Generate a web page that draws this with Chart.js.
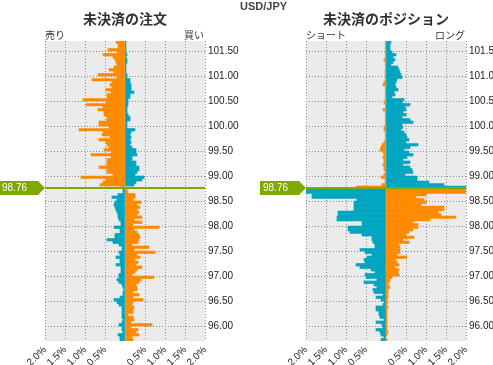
<!DOCTYPE html>
<html>
<head>
<meta charset="utf-8">
<script src="https://cdn.jsdelivr.net/npm/chart.js@4.4.1/dist/chart.umd.min.js"></script>
<style>
body { margin: 0; background: #fff; width: 493px; height: 365px; overflow: hidden; position: relative; }
.box { position: absolute; top: 0; height: 365px; }
#leftBox { left: 0; width: 255px; }
#rightBox { left: 255px; width: 238px; }
#pair { position: absolute; left: 240px; top: 0px; font: bold 11px "Liberation Sans", Arial, sans-serif; color: #444; }
</style>
</head>
<body>
<div class="box" id="leftBox"><canvas id="orderChart"></canvas></div>
<div class="box" id="rightBox"><canvas id="positionChart"></canvas></div>
<div id="pair">USD/JPY</div>
<script>
// price bins (lower edge of each 0.05 bucket, top to bottom)
var priceLevels = [
  101.65,101.60,101.55,101.50,101.45,101.40,101.35,101.30,101.25,101.20,
  101.15,101.10,101.05,101.00,100.95,100.90,100.85,100.80,100.75,100.70,
  100.65,100.60,100.55,100.50,100.45,100.40,100.35,100.30,100.25,100.20,
  100.15,100.10,100.05,100.00,99.95,99.90,99.85,99.80,99.75,99.70,
  99.65,99.60,99.55,99.50,99.45,99.40,99.35,99.30,99.25,99.20,
  99.15,99.10,99.05,99.00,98.95,98.90,98.85,98.80,98.75,98.70,
  98.65,98.60,98.55,98.50,98.45,98.40,98.35,98.30,98.25,98.20,
  98.15,98.10,98.05,98.00,97.95,97.90,97.85,97.80,97.75,97.70,
  97.65,97.60,97.55,97.50,97.45,97.40,97.35,97.30,97.25,97.20,
  97.15,97.10,97.05,97.00,96.95,96.90,96.85,96.80,96.75,96.70,
  96.65,96.60,96.55,96.50,96.45,96.40,96.35,96.30,96.25,96.20,
  96.15,96.10,96.05,96.00,95.95,95.90,95.85,95.80,95.75,95.70
];
var binWidth = 0.05;
var currentPrice = 98.76;

// open orders, % (left = sell side, right = buy side)
var orderSell = [
  0.225,0.175,0.175,0.425,0.2,0.55,0.3,0.25,0.225,0.2,
  0.275,0.4,0.275,0.675,0.2,0.825,0.325,0.375,0.325,0.475,
  0.35,0.45,0.45,1.05,0.475,0.975,0.55,0.675,0.525,0.525,
  0.45,0.45,0.65,0.65,0.4,1.15,0.55,0.575,0.375,0.65,
  0.475,0.45,0.4,0.525,0.35,0.85,0.35,0.45,0.45,0.45,
  0.65,0.45,0.45,0.3,1.1,0.475,0.55,0.625,0.1,0.05,
  0.05,0.175,0.325,0.2,0.25,0.275,0.25,0.225,0.2,0.175,
  0.175,0.15,0.1,0.1,0.275,0.125,0.125,0.25,0.25,0.45,
  0.3,0.15,0.075,0.075,0.15,0.125,0.225,0.125,0.125,0.225,
  0.1,0.1,0.1,0.15,0.15,0.2,0.15,0.075,0.05,0.025,
  0.05,0.05,0.125,0.275,0.2,0.15,0.075,0.075,0.075,0.075,
  0.075,0.05,0.075,0.15,0.075,0.075,0.05,0.175,0.125,0.125
];
var orderBuy = [
  0.025,0.025,0.025,0.025,0.025,0.05,0.025,0.05,0.05,0.025,
  0.025,0.025,0.025,0.05,0.05,0.125,0.125,0.15,0.15,0.15,
  0.225,0.125,0.125,0.075,0.075,0.075,0.05,0.05,0.05,0.075,
  0.125,0.125,0.05,0.05,0.05,0.25,0.15,0.125,0.15,0.125,
  0.15,0.125,0.175,0.275,0.275,0.3,0.175,0.175,0.275,0.275,
  0.35,0.35,0.3,0.25,0.475,0.425,0.275,0.225,0,0.05,
  0.075,0.25,0.25,0.2,0.4,0.3,0.375,0.3,0.35,0.3,
  0.425,0.225,0.425,0.2,0.85,0.225,0.3,0.35,0.375,0.35,
  0.325,0.175,0.6,0.225,0.75,0.3,0.375,0.25,0.325,0.275,
  0.425,0.3,0.25,0.175,0.725,0.4,0.35,0.275,0.3,0.3,
  0.2,0.35,0.2,0.45,0.2,0.175,0.225,0.2,0.2,0.075,
  0.2,0.225,0.15,0.675,0.15,0.325,0.275,0.35,0.175,0.2
];

// open positions, % (left = short, right = long)
var positionShort = [
  0.02,0.02,0.02,0.02,0.02,0.02,0.02,0.05,0.02,0.02,
  0.02,0.02,0.025,0.02,0.02,0.02,0.05,0.075,0.02,0.02,
  0.02,0.02,0.02,0.02,0.05,0.02,0.02,0.075,0.02,0.02,
  0.02,0.02,0.02,0.02,0.05,0.05,0.02,0.02,0.02,0.02,
  0.05,0.1,0.125,0.15,0.075,0.05,0.075,0.05,0.05,0.075,
  0.05,0.05,0.02,0.05,0.125,0.025,0.02,0.1,0.75,2.1,
  2.0,1.85,1.85,0.725,0.8,0.8,0.8,0.8,1.2,1.2,
  1.225,1.225,0.6,0.6,0.95,0.95,0.9,0.6,0.35,0.35,
  0.325,0.275,0.275,0.65,0.525,0.35,0.475,0.55,0.525,0.75,
  0.65,0.375,0.275,0.525,0.5,0.225,0.55,0.3,0.225,0.325,
  0.3,0.075,0.25,0.125,0.05,0.075,0.25,0.25,0.175,0.175,
  0.15,0.05,0.25,0.1,0.075,0.25,0.15,0.125,0.05,0.125
];
var positionLong = [
  0.125,0.1,0.1,0.1,0.15,0.25,0.175,0.225,0.175,0.125,
  0.3,0.325,0.35,0.375,0.4,0.275,0.25,0.225,0.25,0.3,
  0.2,0.225,0.15,0.45,0.4,0.6,0.475,0.5,0.425,0.5,
  0.4,0.6,0.675,0.4,0.425,0.375,0.45,0.5,0.525,0.575,
  0.5,0.8,0.6,0.45,0.575,0.675,0.525,0.425,0.6,0.425,
  0.6,0.65,0.675,0.475,0.775,0.775,1.075,1.45,2.2,2.1,
  2.1,1.0,0.75,0.95,1.0,0.875,1.45,1.45,1.3,1.375,
  1.75,1.1,0.675,0.8,0.8,0.675,0.575,0.5,0.7,0.425,
  0.575,0.325,0.35,0.35,0.35,0.275,0.525,0.225,0.275,0.325,
  0.225,0.325,0.3,0.325,0.15,0.1,0.075,0.05,0.1,0.05,
  0.05,0.05,0.05,0.025,0.05,0.025,0.05,0.025,0.025,0.025,
  0.025,0.025,0.025,0.025,0.025,0.025,0.05,0.025,0,0.025
];

var priceTicks = [96.00, 96.50, 97.00, 97.50, 98.00, 98.50, 99.00, 99.50, 100.00, 100.50, 101.00, 101.50];
var percentTicks = [-2, -1.5, -1, -0.5, 0, 0.5, 1, 1.5, 2];

var orange = '#ff8a00';
var teal = '#00a5bf';
var green = '#7fa800';
var labelFont = '"Liberation Sans", Arial, sans-serif';
var jpFont = '"Noto Sans CJK JP", sans-serif';

var decor = {
  id: 'decor',
  beforeDraw: function(chart) {
    var a = chart.chartArea, ctx = chart.ctx;
    ctx.save();
    ctx.fillStyle = '#ebebeb';
    ctx.fillRect(a.left, a.top, a.right - a.left, a.bottom - a.top);
    ctx.restore();
  },
  afterDraw: function(chart, args, opts) {
    var a = chart.chartArea, ctx = chart.ctx;
    var mid = (a.left + a.right) / 2;
    ctx.save();
    ctx.fillStyle = '#333';
    ctx.textBaseline = 'alphabetic';
    ctx.font = 'bold 14px ' + jpFont;
    ctx.textAlign = 'center';
    ctx.fillText(opts.title, mid, 24);
    ctx.font = '10px ' + jpFont;
    ctx.textAlign = 'left';
    ctx.fillText(opts.leftLabel, a.left, 39);
    ctx.textAlign = 'right';
    ctx.fillText(opts.rightLabel, a.right - 1, 39);

    // current price line and tag
    var y = chart.scales.y.getPixelForValue(currentPrice);
    ctx.strokeStyle = green;
    ctx.lineWidth = 2;
    ctx.beginPath();
    ctx.moveTo(a.left, y);
    ctx.lineTo(a.right, y);
    ctx.stroke();
    ctx.fillStyle = green;
    ctx.beginPath();
    ctx.moveTo(a.left - 46, y - 7);
    ctx.lineTo(a.left - 7, y - 7);
    ctx.lineTo(a.left, y);
    ctx.lineTo(a.left - 7, y + 7);
    ctx.lineTo(a.left - 46, y + 7);
    ctx.closePath();
    ctx.fill();
    ctx.fillStyle = '#fff';
    ctx.font = '10px ' + labelFont;
    ctx.textAlign = 'left';
    ctx.textBaseline = 'middle';
    ctx.fillText(currentPrice.toFixed(2), a.left - 43, y + 0.5);
    ctx.restore();
  }
};

function sideColor(aboveColor, belowColor) {
  return function(c) {
    if (!c.raw) return aboveColor;
    return c.raw.y > currentPrice ? aboveColor : belowColor;
  };
}

function makeChart(id, leftValues, rightValues, title, leftLabel, rightLabel, padLeft, axisWidth) {
  return new Chart(document.getElementById(id), {
    type: 'bar',
    data: {
      datasets: [
        {
          label: leftLabel,
          stack: 'book',
          data: priceLevels.map(function(p, i) { return { x: -leftValues[i], y: p + binWidth / 2 }; }),
          backgroundColor: sideColor(orange, teal),
          borderWidth: 0,
          barPercentage: 1,
          categoryPercentage: 1
        },
        {
          label: rightLabel,
          stack: 'book',
          data: priceLevels.map(function(p, i) { return { x: rightValues[i], y: p + binWidth / 2 }; }),
          backgroundColor: sideColor(teal, orange),
          borderWidth: 0,
          barPercentage: 1,
          categoryPercentage: 1
        }
      ]
    },
    options: {
      indexAxis: 'y',
      responsive: true,
      maintainAspectRatio: false,
      animation: false,
      layout: { padding: { left: padLeft, top: 41, right: 0, bottom: 0 } },
      plugins: {
        legend: { display: false },
        tooltip: { enabled: false },
        decor: { title: title, leftLabel: leftLabel, rightLabel: rightLabel }
      },
      scales: {
        x: {
          type: 'linear',
          stacked: true,
          min: -2,
          max: 2,
          afterBuildTicks: function(s) { s.ticks = percentTicks.map(function(v) { return { value: v }; }); },
          afterFit: function(s) { s.height = 24; },
          ticks: {
            autoSkip: false,
            minRotation: 45,
            maxRotation: 45,
            padding: 3,
            color: '#222',
            font: { family: labelFont, size: 10 },
            callback: function(v) { return v === 0 ? '' : Math.abs(v).toFixed(1) + '%'; }
          },
          grid: { color: '#8c8c8c', drawTicks: false },
          border: { display: false, dash: [1, 2] }
        },
        y: {
          type: 'linear',
          position: 'right',
          offset: false,
          min: 95.70,
          max: 101.70,
          afterBuildTicks: function(s) { s.ticks = priceTicks.map(function(v) { return { value: v }; }); },
          afterFit: function(s) { s.width = axisWidth; },
          ticks: {
            padding: 3,
            color: '#222',
            font: { family: labelFont, size: 10 },
            callback: function(v) { return Number(v).toFixed(2); }
          },
          grid: { color: '#8c8c8c', drawTicks: false, offset: false },
          border: { display: false, dash: [1, 2] }
        }
      }
    },
    plugins: [decor]
  });
}

makeChart('orderChart', orderSell, orderBuy, '未決済の注文', '売り', '買い', 45, 50);
makeChart('positionChart', positionShort, positionLong, '未決済のポジション', 'ショート', 'ロング', 51, 27);
</script>
</body>
</html>
